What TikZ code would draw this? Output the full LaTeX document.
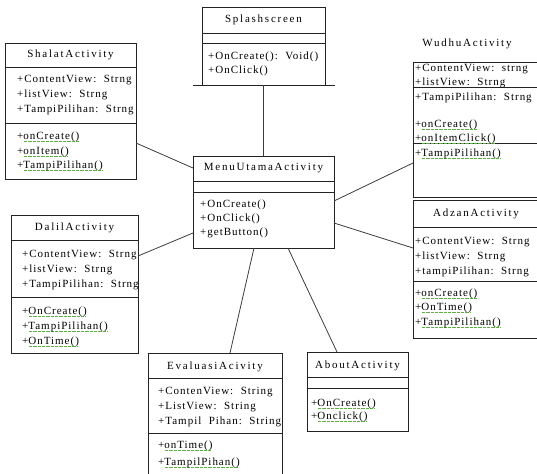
\documentclass[tikz,border=0pt]{standalone}
\usepackage{fontspec}
\setmainfont{Liberation Serif}[LetterSpace=9]
\newfontfamily\titlefont{Liberation Serif}[LetterSpace=16]

\definecolor{edge}{RGB}{35,35,35}
\definecolor{wire}{RGB}{60,60,60}
\definecolor{squig}{RGB}{95,175,70}
% spell-check style green dotted underline
\newcommand\gw[1]{\setbox0\hbox{#1}\rlap{\color{squig}\leaders\hbox to 1.3pt{\hss\rule[-2.2pt]{0.75pt}{0.55pt}\hss}\hskip\wd0}\box0}

\begin{document}
\begin{tikzpicture}[x=1pt,y=-1pt,
  classbox/.style={draw=edge,line width=0.8pt,inner sep=0pt,outer sep=0pt,anchor=north west},
  part/.style={draw=edge,line width=0.8pt},
  txt/.style={anchor=west,inner sep=0pt,font=\fontsize{11}{12}\selectfont},
  ttl/.style={inner sep=0pt,font=\titlefont\fontsize{11}{12}\selectfont},
  link/.style={draw=wire,line width=0.8pt}]
\useasboundingbox (0,0) rectangle (537,473);

% ---- Splashscreen
\node[classbox,minimum width=123pt,minimum height=78pt] (splash) at (202,7) {};
\draw[part] (splash.west |- 0,33) -- (splash.east |- 0,33);
\draw[part] (splash.west |- 0,43) -- (splash.east |- 0,43);
\draw[part] ([xshift=-9pt]splash.south west) -- ([xshift=10pt]splash.south east);
\node[ttl] (splash-t) at (splash.north |- 0,20) {Splashscreen};
\node[txt] (splash-m1) at (208,57) {+OnCreate():\ \ Void()};
\node[txt] (splash-m2) at (208,71) {+OnClick()};

% ---- MenuUtamaActivity
\node[classbox,minimum width=141pt,minimum height=92pt] (menu) at (193,156) {};
\draw[part] (menu.west |- 0,181) -- (menu.east |- 0,181);
\draw[part] (menu.west |- 0,192) -- (menu.east |- 0,192);
\node[ttl] (menu-t) at (menu.north |- 0,168) {MenuUtamaActivity};
\node[txt] (menu-m1) at (200,205) {+OnCreate()};
\node[txt] (menu-m2) at (200,219) {+OnClick()};
\node[txt] (menu-m3) at (200,233) {+getButton()};

% ---- ShalatActivity
\node[classbox,minimum width=131pt,minimum height=136pt] (shalat) at (5,43) {};
\draw[part] (shalat.west |- 0,67) -- (shalat.east |- 0,67);
\draw[part] (shalat.west |- 0,123) -- (shalat.east |- 0,123);
\node[ttl] (shalat-t) at (shalat.north |- 0,55) {ShalatActivity};
\node[txt] (shalat-a1) at (17,80) {+ContentView:\ \ Strng};
\node[txt] (shalat-a2) at (17,95) {+listView:\ \ Strng};
\node[txt] (shalat-a3) at (17,110) {+TampiPilihan:\ \ Strng};
\node[txt] (shalat-m1) at (17,137) {+\gw{onCreate()}};
\node[txt] (shalat-m2) at (17,152) {+\gw{onItem()}};
\node[txt] (shalat-m3) at (17,166) {+\gw{TampiPilihan()}};

% ---- WudhuActivity (runs past the right edge)
\node[classbox,minimum width=140pt,minimum height=135pt] (wudhu) at (413,62) {};
\draw[part] (wudhu.west |- 0,87) -- (wudhu.east |- 0,87);
\draw[part] (wudhu.west |- 0,143) -- (wudhu.east |- 0,143);
\node[ttl] (wudhu-t) at (467,44) {WudhuActivity};
\node[txt] (wudhu-a1) at (415,69) {+ContentView:\ \ strng};
\node[txt] (wudhu-a2) at (415,83) {+listView:\ \ Strng};
\node[txt] (wudhu-a3) at (415,98) {+TampiPilihan:\ \ Strng};
\node[txt] (wudhu-m1) at (415,125) {+\gw{onCreate()}};
\node[txt] (wudhu-m2) at (415,139) {+\gw{onItemClick()}};
\node[txt] (wudhu-m3) at (415,154) {+\gw{TampiPilihan()}};

% ---- DalilActivity
\node[classbox,minimum width=127pt,minimum height=138pt] (dalil) at (11,215) {};
\draw[part] (dalil.west |- 0,240) -- (dalil.east |- 0,240);
\draw[part] (dalil.west |- 0,297) -- (dalil.east |- 0,297);
\node[ttl] (dalil-t) at (dalil.north |- 0,228) {DalilActivity};
\node[txt] (dalil-a1) at (22,255) {+ContentView:\ \ Strng};
\node[txt] (dalil-a2) at (22,270) {+listView:\ \ Strng};
\node[txt] (dalil-a3) at (22,285) {+TampiPilihan:\ \ Strng};
\node[txt] (dalil-m1) at (22,312) {+\gw{OnCreate()}};
\node[txt] (dalil-m2) at (22,327) {+\gw{TampiPilihan()}};
\node[txt] (dalil-m3) at (22,342) {+\gw{OnTime()}};

% ---- AdzanActivity (runs past the right edge)
\node[classbox,minimum width=140pt,minimum height=138pt] (adzan) at (413,200) {};
\draw[part] (adzan.west |- 0,227) -- (adzan.east |- 0,227);
\draw[part] (adzan.west |- 0,281) -- (adzan.east |- 0,281);
\node[ttl] (adzan-t) at (476,214) {AdzanActivity};
\node[txt] (adzan-a1) at (415,242) {+ContentView:\ \ Strng};
\node[txt] (adzan-a2) at (415,257) {+listView:\ \ Strng};
\node[txt] (adzan-a3) at (415,272) {+tampiPilihan:\ \ Strng};
\node[txt] (adzan-m1) at (415,294) {+\gw{onCreate()}};
\node[txt] (adzan-m2) at (415,308) {+\gw{OnTime()}};
\node[txt] (adzan-m3) at (415,323) {+\gw{TampiPilihan()}};

% ---- EvaluasiAcivity (runs past the bottom edge)
\node[classbox,minimum width=134pt,minimum height=130pt] (eval) at (148,353) {};
\draw[part] (eval.west |- 0,378) -- (eval.east |- 0,378);
\draw[part] (eval.west |- 0,433) -- (eval.east |- 0,433);
\node[ttl] (eval-t) at (eval.north |- 0,367) {EvaluasiAcivity};
\node[txt] (eval-a1) at (158,392) {+ContenView:\ \ String};
\node[txt] (eval-a2) at (158,407) {+ListView:\ \ String};
\node[txt] (eval-a3) at (158,422) {+Tampil\ \ Pihan:\ \ String};
\node[txt] (eval-m1) at (158,446) {+\gw{onTime()}};
\node[txt] (eval-m2) at (158,463) {+\gw{TampilPihan()}};

% ---- AboutActivity
\node[classbox,minimum width=101pt,minimum height=79pt] (about) at (307,352) {};
\draw[part] (about.west |- 0,377) -- (about.east |- 0,377);
\draw[part] (about.west |- 0,388) -- (about.east |- 0,388);
\node[ttl] (about-t) at (about.north |- 0,366) {AboutActivity};
\node[txt] (about-m1) at (311,404) {+\gw{OnCreate()}};
\node[txt] (about-m2) at (311,417) {+\gw{Onclick()}};

% ---- associations to the main menu
\draw[link] (splash.south) -- (menu.north);
\draw[link] ([yshift=-100pt]shalat.north east) -- ([yshift=-12pt]menu.north west);
\draw[link] ([yshift=-101pt]wudhu.north west) -- ([yshift=-45pt]menu.north east);
\draw[link] ([yshift=-48pt]adzan.north west) -- ([yshift=-67pt]menu.north east);
\draw[link] ([yshift=-41pt]dalil.north east) -- ([yshift=-77pt]menu.north west);
\draw[link] ([xshift=82pt]eval.north west) -- ([xshift=61pt]menu.south west);
\draw[link] ([xshift=30pt]about.north west) -- ([xshift=95pt]menu.south west);
\end{tikzpicture}
\end{document}
